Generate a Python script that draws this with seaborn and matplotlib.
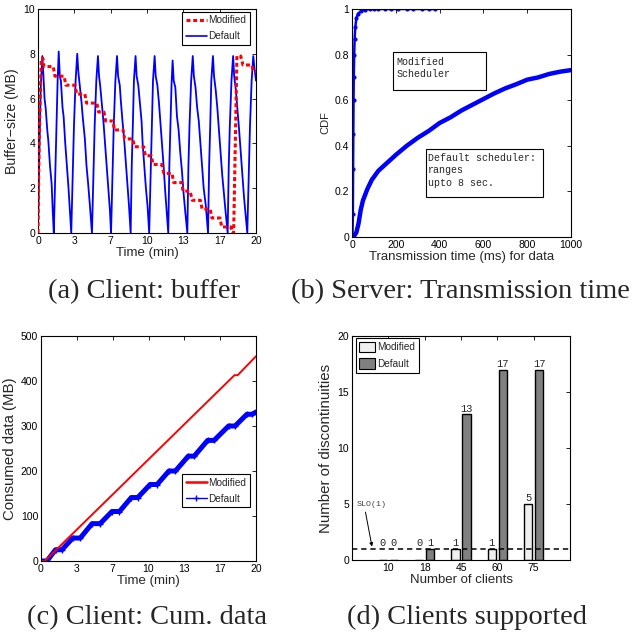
import numpy as np
import pandas as pd
import matplotlib
matplotlib.use("Agg")
import matplotlib.pyplot as plt
import seaborn as sns
from matplotlib.lines import Line2D
from matplotlib.patches import Patch, Rectangle
from matplotlib import font_manager

# ---------------- data ----------------
# (a) client buffer (MB) vs time (min)
buf_time_default = [0, 0.12, 0.25, 0.4, 0.5, 0.6, 0.7, 0.85, 0.95, 1.1, 1.25, 1.35, 1.45,
                    1.6, 1.7, 1.8, 1.9, 2.0, 2.1, 2.25, 2.35, 2.5, 2.65, 2.8, 2.9, 3.05,
                    3.2, 3.3, 3.45, 3.6, 3.7, 3.85, 4.0, 4.1, 4.3, 4.45, 4.6, 4.75, 4.95,
                    5.1, 5.2, 5.35, 5.5, 5.6, 5.7, 5.85, 6.0, 6.15, 6.3, 6.45, 6.6, 6.7,
                    6.85, 6.95, 7.1, 7.25, 7.35, 7.5, 7.6, 7.75, 7.9, 8.05, 8.2, 8.35, 8.5,
                    8.6, 8.7, 8.8, 8.95, 9.05, 9.2, 9.35, 9.5, 9.6, 9.75, 9.9, 10.05, 10.2,
                    10.35, 10.45, 10.55, 10.7, 10.8, 10.95, 11.1, 11.25, 11.4, 11.55, 11.65, 11.8, 11.95,
                    12.05, 12.15, 12.25, 12.35, 12.45, 12.6, 12.75, 12.9, 13.05, 13.2, 13.35, 13.5, 13.7,
                    13.8, 13.9, 14.05, 14.2, 14.3, 14.45, 14.6, 14.75, 14.9, 15.05, 15.2, 15.4, 15.6,
                    15.7, 15.8, 15.9, 16.05, 16.15, 16.3, 16.45, 16.6, 16.75, 16.9, 17.05, 17.2, 17.4,
                    17.5, 17.6, 17.75, 17.9, 18.0, 18.15, 18.3, 18.45, 18.6, 18.75, 18.9, 19.05, 19.2,
                    19.35, 19.45, 19.6, 19.75, 19.85, 20.0]
buf_default = [0, 3.5, 6.5, 7.9, 7.0, 6.0, 5.6, 4.6, 4.1, 3.0, 2.2, 1.0, 0,
               3.0, 4.8, 6.8, 8.1, 7.0, 6.8, 5.6, 5.2, 4.0, 3.0, 2.0, 1.2, 0,
               3.0, 4.8, 6.8, 8.0, 7.2, 6.5, 5.8, 5.2, 4.2, 3.0, 2.2, 1.3, 0,
               3.0, 4.8, 6.8, 7.9, 7.0, 6.6, 5.8, 5.0, 4.0, 3.0, 2.0, 1.0, 0,
               3.0, 4.8, 6.8, 7.9, 7.0, 6.6, 5.9, 5.0, 4.2, 3.2, 2.2, 1.2, 0,
               3.0, 4.8, 6.8, 7.9, 7.0, 6.6, 5.8, 5.0, 4.0, 3.0, 2.0, 1.2, 0,
               3.0, 4.8, 6.8, 7.9, 7.0, 6.6, 5.8, 4.8, 3.8, 2.8, 2.0, 1.0, 0,
               3.0, 4.8, 6.6, 7.7, 6.8, 6.5, 5.2, 4.6, 3.6, 2.8, 1.8, 1.0, 0,
               3.0, 4.8, 6.8, 7.9, 7.0, 6.5, 5.6, 5.0, 4.0, 3.0, 2.0, 1.2, 0,
               3.0, 4.8, 6.8, 7.9, 7.0, 6.4, 5.6, 4.6, 3.6, 2.6, 1.8, 1.0, 0,
               3.0, 4.8, 6.8, 7.9, 7.0, 6.4, 5.5, 4.6, 3.6, 2.6, 1.6, 0.8, 0,
               3.0, 4.8, 6.8, 7.9, 7.4, 6.8]
buf_time_modified = [0, 0.1, 0.3, 0.45, 0.55, 1.4, 1.55, 2.4, 2.55, 3.4, 3.55, 4.3, 4.45, 5.4,
                     5.55, 6.05, 6.2, 6.9, 7.0, 7.8, 7.95, 8.7, 8.85, 9.7, 9.85, 10.4, 10.55,
                     11.35, 11.55, 12.3, 12.45, 13.2, 13.3, 13.95, 14.15, 14.9, 15.05, 15.8,
                     15.95, 16.7, 16.85, 17.7, 17.85, 17.95, 18.1, 18.25, 18.6, 18.8, 19.6, 19.8, 20.0]
buf_modified = [0, 4.0, 7.8, 7.8, 7.43, 7.43, 7.0, 7.0, 6.6, 6.6, 6.2, 6.2, 5.8, 5.8,
                5.4, 5.4, 5.0, 5.0, 4.6, 4.6, 4.2, 4.2, 3.85, 3.85, 3.45, 3.45, 3.06,
                3.06, 2.66, 2.66, 2.25, 2.25, 1.87, 1.87, 1.46, 1.46, 1.07, 1.07,
                0.67, 0.67, 0.27, 0.27, 0, 0, 4.0, 7.9, 7.9, 7.5, 7.5, 7.2, 7.2]

# (b) server transmission time CDF
tx_ms_modified = [0, 2, 4, 5, 6, 7, 8, 10, 12, 15, 20, 28, 40, 60, 80, 100, 120, 150,
                  180, 210, 250, 280, 320, 350, 380]
cdf_modified = [0, 0, 0.1, 0.3, 0.45, 0.6, 0.7, 0.8, 0.87, 0.92, 0.96, 0.98, 0.99, 0.997,
                1, 1, 1, 1, 1, 1, 1, 1, 1, 1, 1]
tx_ms_default = [0, 10, 20, 30, 40, 50, 70, 90, 120, 160, 200, 250, 300, 350, 400, 450,
                 500, 550, 600, 650, 700, 750, 800, 850, 900, 950, 1000]
cdf_default = [0, 0.005, 0.02, 0.06, 0.12, 0.16, 0.21, 0.25, 0.29, 0.325, 0.36, 0.40, 0.435,
               0.465, 0.50, 0.525, 0.555, 0.58, 0.605, 0.63, 0.652, 0.67, 0.69, 0.70, 0.715,
               0.725, 0.732]

# (c) cumulative consumed data (MB)
cum_time_modified = [0, 0.35, 18.0, 18.3, 20.0]
cum_modified = [0, 0, 413, 413, 455]
cum_time_default = [0, 0.55, 1.35, 1.95, 2.95, 3.65, 4.75, 5.5, 6.6, 7.3, 8.4, 9.0, 10.15,
                    10.8, 11.9, 12.5, 13.7, 14.25, 15.5, 16.1, 17.45, 18.05, 19.15, 19.65, 20.0]
cum_default = [0, 0, 25, 25, 51, 51, 83, 83, 110, 110, 141, 141, 170, 170, 200, 200, 233,
               233, 268, 268, 300, 300, 326, 326, 331]

# (d) discontinuities vs number of clients
clients = ["10", "18", "45", "60", "75"]
disc_modified = [0, 0, 1, 1, 5]
disc_default = [0, 1, 13, 17, 17]
slo_level = 1

time_ticks = [0, 20 / 6, 40 / 6, 10, 80 / 6, 100 / 6, 20]
time_ticklabels = ["0", "3", "7", "10", "13", "17", "20"]

# ---------------- style ----------------
sns.set_style("white")
names = {f.name for f in font_manager.fontManager.ttflist}
SANS = "Liberation Sans Narrow" if "Liberation Sans Narrow" in names else "Liberation Sans"
plt.rcParams["font.family"] = [SANS, "DejaVu Sans"]
plt.rcParams["axes.unicode_minus"] = True
MONO = "Liberation Mono"
YFAM = ["Liberation Sans", "DejaVu Sans"]

fig = plt.figure(figsize=(6.35, 6.40), dpi=100)
W, H = 635.0, 640.0


def add_axes(x0, y0, x1, y1):
    return fig.add_axes([x0 / W, 1 - y1 / H, (x1 - x0) / W, (y1 - y0) / H])


def frame(ax):
    ax.tick_params(direction="in", top=True, right=True, length=3, width=0.6,
                   labelsize=7.5, pad=2, colors="black")
    for s in ax.spines.values():
        s.set_visible(True)
        s.set_color("black")
        s.set_linewidth(0.8)


def legend_box(ax, handles, labels, size=7.2, **kw):
    leg = ax.legend(handles, labels, frameon=True, fancybox=False, framealpha=1,
                    edgecolor="black", prop={"family": SANS, "size": size},
                    borderpad=0.35, handletextpad=0.2, borderaxespad=0, **kw)
    leg.get_frame().set_linewidth(0.8)
    return leg


RED = "#ff0000"
BLUE = "#0000ff"
DOT = (0, (1.3, 0.9))

# ---------------- (a) ----------------
ax = add_axes(38, 9, 256, 233)
sns.lineplot(x=buf_time_default, y=buf_default, ax=ax, color=BLUE, lw=1.3,
             estimator=None, sort=False, zorder=2)
sns.lineplot(x=buf_time_modified, y=buf_modified, ax=ax, color=RED, lw=2.2,
             estimator=None, sort=False, zorder=3, linestyle=DOT)
ax.set_xlim(0, 20)
ax.set_ylim(0, 10)
ax.set_xticks(time_ticks)
ax.set_xticklabels(time_ticklabels)
ax.set_yticks([0, 2, 4, 6, 8, 10])
frame(ax)
ax.set_xlabel("Time (min)", fontsize=9.5, labelpad=1)
ax.set_ylabel("Buffer\u2212size (MB)", family=YFAM, fontsize=10.2, labelpad=3)
legend_box(ax,
           [Line2D([], [], color=RED, lw=2.2, linestyle=DOT),
            Line2D([], [], color=BLUE, lw=1.2)],
           ["Modified", "Default"], loc="upper right", bbox_to_anchor=(0.972, 0.987),
           handlelength=2.1, labelspacing=0.6)

# ---------------- (b) ----------------
ax = add_axes(352, 9, 571, 237)
sns.lineplot(x=tx_ms_default, y=cdf_default, ax=ax, color=BLUE, lw=3.2,
             estimator=None, sort=False)
sns.lineplot(x=tx_ms_modified, y=cdf_modified, ax=ax, color=BLUE, lw=1.8,
             marker="o", markersize=3, markeredgewidth=0, estimator=None, sort=False)
ax.set_xlim(0, 1000)
ax.set_ylim(0, 1)
ax.set_xticks([0, 200, 400, 600, 800, 1000])
ax.set_yticks([0, 0.2, 0.4, 0.6, 0.8, 1])
ax.set_yticklabels(["0", "0.2", "0.4", "0.6", "0.8", "1"])
frame(ax)
ax.set_xlabel("Transmission time (ms) for data", fontsize=9.5, labelpad=1)
ax.set_ylabel("CDF", family=YFAM, fontsize=8, labelpad=3)
ax.add_patch(Rectangle((0.187, 0.645), 0.425, 0.166, transform=ax.transAxes,
                       fill=False, edgecolor="black", lw=0.8))
ax.text(0.204, 0.79, "Modified\nScheduler", transform=ax.transAxes, family=MONO,
        fontsize=7.2, va="top", ha="left", linespacing=1.3)
ax.add_patch(Rectangle((0.338, 0.174), 0.534, 0.211, transform=ax.transAxes,
                       fill=False, edgecolor="black", lw=0.8))
ax.text(0.346, 0.368, "Default scheduler:\nranges\nupto 8 sec.", transform=ax.transAxes,
        family=MONO, fontsize=7.2, va="top", ha="left", linespacing=1.3)

# ---------------- (c) ----------------
ax = add_axes(41, 336, 256, 561)
sns.lineplot(x=cum_time_default, y=cum_default, ax=ax, color=BLUE, lw=3.6,
             marker="+", markersize=5, markeredgewidth=1, markeredgecolor=BLUE,
             estimator=None, sort=False)
sns.lineplot(x=cum_time_modified, y=cum_modified, ax=ax, color=RED, lw=1.4,
             estimator=None, sort=False)
ax.set_xlim(0, 20)
ax.set_ylim(0, 500)
ax.set_xticks(time_ticks)
ax.set_xticklabels(time_ticklabels)
ax.set_yticks([0, 100, 200, 300, 400, 500])
frame(ax)
ax.set_xlabel("Time (min)", fontsize=9.5, labelpad=1)
ax.set_ylabel("Consumed data (MB)", family=YFAM, fontsize=10.8, labelpad=3)
legend_box(ax,
           [Line2D([], [], color=RED, lw=1.8),
            Line2D([], [], color=BLUE, lw=1.0, marker="+", markersize=5,
                   markeredgecolor=BLUE)],
           ["Modified", "Default"], loc="lower right", bbox_to_anchor=(0.972, 0.24),
           handlelength=2.1, labelspacing=0.6)

# ---------------- (d) ----------------
ax = add_axes(352, 336, 570, 560)
df = pd.DataFrame({
    "clients": clients * 2,
    "value": disc_modified + disc_default,
    "scheduler": ["Modified"] * len(clients) + ["Default"] * len(clients),
})
pal = {"Modified": "#efefef", "Default": "#808080"}
sns.barplot(data=df, x="clients", y="value", hue="scheduler", palette=pal,
            width=0.6, gap=0.22, edgecolor="black", linewidth=1.0, saturation=1,
            errorbar=None, legend=False, ax=ax, order=clients,
            hue_order=["Modified", "Default"])
ax.axhline(slo_level, color="black", lw=1.1, linestyle=(0, (3.5, 2.5)), zorder=5)
for cont in ax.containers:
    for bar in cont:
        h = bar.get_height()
        ax.text(bar.get_x() + bar.get_width() / 2, max(h, slo_level) + 0.08,
                f"{int(round(h))}", ha="center", va="bottom", family=MONO, fontsize=7.5)
ax.annotate("SLO(1)", xy=(-0.45, 1.2), xytext=(-0.86, 5.0), family=MONO, fontsize=6,
            color="#444444", va="center", ha="left",
            arrowprops=dict(arrowstyle="-|>", color="black", lw=0.7,
                            mutation_scale=5, shrinkA=1, shrinkB=0,
                            relpos=(0.25, 0.0)),
            annotation_clip=False)
ax.set_xlim(-1, 5)
ax.set_ylim(0, 20)
ax.set_yticks([0, 5, 10, 15, 20])
frame(ax)
ax.set_xlabel("Number of clients", fontsize=9.5, labelpad=1)
ax.set_ylabel("Number of discontinuities", family=YFAM, fontsize=10.8, labelpad=3)
legend_box(ax,
           [Patch(facecolor=pal["Modified"], edgecolor="black", lw=0.8),
            Patch(facecolor=pal["Default"], edgecolor="black", lw=0.8)],
           ["Modified", "Default"], loc="upper left", bbox_to_anchor=(0.018, 0.991),
           handlelength=1.6, handleheight=1.3, labelspacing=0.6)

# ---------------- captions ----------------
CAP = dict(family=["Liberation Serif", "DejaVu Serif"], fontsize=20.5, ha="center",
           va="baseline")
fig.text(144 / W, 1 - 298 / H, "(a) Client: buffer", **CAP)
fig.text(460 / W, 1 - 298 / H, "(b) Server: Transmission time", **CAP)
fig.text(147 / W, 1 - 624 / H, "(c) Client: Cum. data", **CAP)
fig.text(467 / W, 1 - 624 / H, "(d) Clients supported", **CAP)

fig.savefig("out.png", dpi=100)
